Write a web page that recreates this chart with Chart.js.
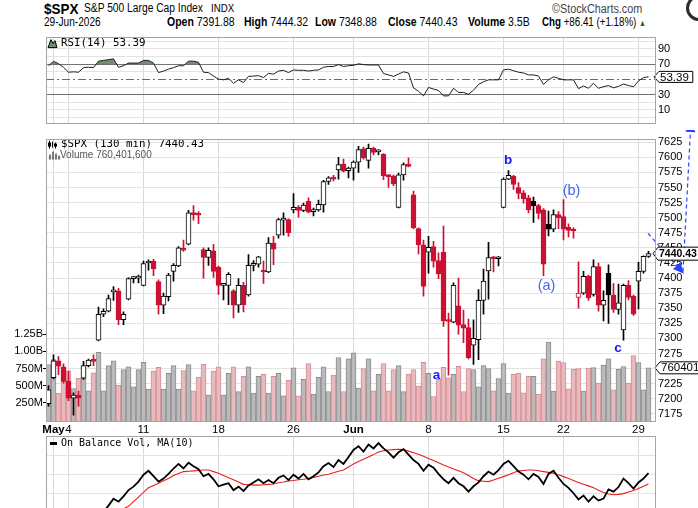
<!DOCTYPE html>
<html>
<head>
<meta charset="utf-8">
<title>$SPX 130 min</title>
<script src="https://cdn.jsdelivr.net/npm/chart.js@4.4.1/dist/chart.umd.min.js"></script>
<style>
  html, body { margin: 0; padding: 0; background: #fff; }
  body { position: relative; width: 698px; height: 508px; overflow: hidden; font-family: 'Liberation Sans', Arial, sans-serif; color: #000; }
  .hd { position: absolute; white-space: nowrap; line-height: 1; transform: scaleX(0.84); transform-origin: 0 0; }
  canvas { position: absolute; left: 0; }
</style>
</head>
<body>
<div class="hd" style="left:44px;top:1px;font-size:15px;font-weight:bold;transform:scaleX(0.9);">$SPX</div>
<div class="hd" style="left:84px;top:2px;font-size:12.5px;transform:scaleX(0.82);">S&amp;P 500 Large Cap Index</div>
<div class="hd" style="left:211px;top:3px;font-size:11.5px;">INDX</div>
<div class="hd" style="left:552px;top:3px;font-size:12px;color:#444;transform:scaleX(0.9);">©StockCharts.com</div>
<div class="hd" style="left:44px;top:16px;font-size:12px;">29-Jun-2026</div>
<div class="hd" style="left:167px;top:16px;font-size:12.5px;"><b>Open</b> 7391.88</div>
<div class="hd" style="left:244px;top:16px;font-size:12.5px;"><b>High</b> 7444.32</div>
<div class="hd" style="left:315px;top:16px;font-size:12.5px;"><b>Low</b> 7348.88</div>
<div class="hd" style="left:388px;top:16px;font-size:12.5px;"><b>Close</b> 7440.43</div>
<div class="hd" style="left:468px;top:16px;font-size:12.5px;"><b>Volume</b> 3.5B</div>
<div class="hd" style="left:542px;top:16px;font-size:12.5px;transform:scaleX(0.78);"><b>Chg</b> +86.41 (+1.18%) <span style="font-size:9px;color:#1d6b1d;">▲</span></div>
<div style="position:absolute;left:686px;top:-5px;width:20px;height:20px;border-radius:50%;border:3px solid #2b2b2b;"></div>

<canvas id="rsi" width="698" height="104" style="top:28px"></canvas>
<canvas id="price" width="698" height="305" style="top:130px"></canvas>
<canvas id="obv" width="698" height="100" style="top:434px"></canvas>

<script>
// ---- data (130 min bars, Apr 30 last bar .. Jun 29) ----
const xTickIdx = [1, 4, 19, 34, 49, 61, 76, 91, 103, 118];
const xTickText = ['May', '4', '11', '18', '26', 'Jun', '8', '15', '22', '29'];

const opens = [
  7192, 7235, 7263, 7253, 7229, 7201, 7206, 7234, 7255, 7264,
  7297, 7340, 7345, 7377, 7379, 7331, 7365, 7399, 7400, 7388,
  7425, 7428, 7394, 7355, 7369, 7411, 7420, 7449, 7456, 7508,
  7506, 7447, 7434, 7445, 7418, 7388, 7388, 7379, 7355, 7388,
  7372, 7421, 7423, 7413, 7410, 7458, 7471, 7496, 7497, 7513,
  7517, 7512, 7527, 7510, 7513, 7521, 7560, 7566, 7579, 7589,
  7578, 7582, 7592, 7614, 7595, 7615, 7609, 7605, 7570, 7569,
  7517, 7571, 7588, 7538, 7482, 7455, 7443, 7452, 7429, 7443,
  7330, 7327, 7354, 7323, 7318, 7289, 7298, 7363, 7412, 7435,
  7432, 7517, 7564, 7569, 7550, 7541, 7533, 7527, 7520, 7513,
  7489, 7481, 7505, 7502, 7484, 7481, 7368, 7375, 7403, 7373,
  7419, 7355, 7408, 7372, 7348, 7314, 7388, 7370, 7395, 7411,
  7436
];
const highs = [
  7222, 7273, 7270, 7258, 7245, 7210, 7213, 7262, 7266, 7273,
  7352, 7349, 7372, 7386, 7383, 7344, 7401, 7403, 7405, 7428,
  7430, 7431, 7397, 7375, 7408, 7424, 7452, 7463, 7512, 7520,
  7510, 7450, 7450, 7456, 7420, 7390, 7409, 7381, 7399, 7393,
  7439, 7429, 7436, 7428, 7467, 7469, 7499, 7508, 7498, 7540,
  7520, 7524, 7533, 7516, 7529, 7562, 7568, 7570, 7600, 7597,
  7584, 7594, 7618, 7617, 7622, 7617, 7613, 7606, 7571, 7571,
  7574, 7591, 7599, 7544, 7483, 7463, 7469, 7461, 7442, 7486,
  7342, 7392, 7400, 7347, 7332, 7331, 7381, 7415, 7459, 7436,
  7436, 7566, 7578, 7570, 7558, 7545, 7537, 7534, 7522, 7515,
  7511, 7513, 7510, 7530, 7490, 7483, 7427, 7411, 7405, 7430,
  7425, 7379, 7422, 7391, 7390, 7390, 7396, 7372, 7426, 7437,
  7444.32
];
const lows = [
  7188, 7233, 7240, 7226, 7197, 7173, 7188, 7232, 7253, 7255,
  7296, 7336, 7344, 7363, 7323, 7323, 7364, 7392, 7392, 7387,
  7413, 7404, 7340, 7341, 7362, 7395, 7419, 7444, 7455, 7496,
  7490, 7400, 7421, 7401, 7373, 7364, 7356, 7334, 7343, 7344,
  7370, 7412, 7418, 7391, 7409, 7422, 7466, 7471, 7469, 7508,
  7501, 7510, 7508, 7503, 7511, 7509, 7555, 7561, 7564, 7576,
  7566, 7562, 7575, 7597, 7582, 7604, 7604, 7563, 7550, 7553,
  7516, 7562, 7584, 7482, 7440, 7370, 7408, 7418, 7399, 7320,
  7239, 7326, 7307, 7293, 7266, 7257, 7265, 7340, 7365, 7410,
  7420, 7516, 7563, 7547, 7531, 7524, 7508, 7492, 7498, 7404,
  7470, 7477, 7482, 7463, 7468, 7466, 7350, 7373, 7363, 7370,
  7345, 7329, 7325, 7343, 7340, 7297, 7364, 7338, 7349, 7408,
  7434
];
const closes = [
  7215, 7263, 7254, 7229, 7201, 7206, 7201, 7255, 7264, 7262,
  7340, 7345, 7366, 7378, 7331, 7340, 7399, 7400, 7401, 7424,
  7428, 7415, 7355, 7370, 7405, 7421, 7450, 7446, 7508, 7505,
  7504, 7434, 7446, 7411, 7388, 7389, 7406, 7355, 7388, 7356,
  7421, 7423, 7435, 7410, 7458, 7448, 7497, 7498, 7475, 7517,
  7512, 7521, 7509, 7513, 7522, 7560, 7566, 7564, 7588, 7577,
  7582, 7592, 7613, 7599, 7615, 7608, 7610, 7569, 7568, 7556,
  7571, 7588, 7585, 7483, 7455, 7386, 7451, 7428, 7407, 7329,
  7328, 7388, 7322, 7317, 7268, 7300, 7363, 7395, 7434, 7432,
  7433, 7564, 7570, 7555, 7540, 7531, 7513, 7520, 7507, 7423,
  7481, 7505, 7500, 7481, 7479, 7478, 7375, 7403, 7367, 7419,
  7355, 7363, 7372, 7348, 7359, 7388, 7368, 7340, 7411, 7436,
  7440.43
];
// volume in millions of shares
const volumes = [
  807, 880, 387, 711, 721, 459, 607, 783, 426, 687,
  987, 426, 793, 864, 507, 736, 773, 483, 736, 840,
  450, 711, 769, 450, 679, 793, 450, 721, 807, 426,
  626, 816, 364, 711, 773, 364, 679, 773, 412, 636,
  773, 393, 636, 664, 393, 636, 679, 350, 579, 759,
  350, 593, 821, 379, 621, 773, 412, 654, 911, 412,
  893, 979, 464, 750, 893, 426, 664, 821, 426, 736,
  793, 412, 664, 736, 493, 840, 679, 340, 593, 769,
  616, 664, 783, 412, 750, 736, 483, 793, 750, 426,
  602, 821, 393, 664, 683, 397, 636, 636, 373, 893,
  1136, 421, 859, 836, 454, 740, 750, 421, 755, 764,
  536, 797, 893, 440, 740, 779, 536, 940, 836, 440,
  760.4016
];
const rsi = [
  68, 73.7, 70.7, 66, 59.5, 60, 59.5, 65.5, 66, 65.5,
  74, 75, 76, 77, 66, 68, 71.5, 71.5, 71.5, 75,
  75, 71.5, 59, 61, 63.5, 65.5, 68, 68, 74, 74,
  72.5, 59.5, 59, 54.5, 50.5, 49.5, 51.5, 45, 49.5, 46,
  54, 54.5, 55, 52.5, 58, 57, 61, 62, 59, 62.5,
  62, 62, 61, 62, 62.5, 66, 67, 67, 69.5, 67,
  68, 68.5, 70.5, 69.5, 69, 69, 69, 57.7, 56, 54,
  57, 60, 58.5, 39, 34.5, 28.5, 39.5, 37.5, 35.5, 28.5,
  28.5, 38.5, 33, 33, 30.5, 36, 43.5, 47, 49.5, 49.5,
  49.5, 62.5, 63.5, 61.5, 59.5, 58.5, 56, 56, 54.5, 43.5,
  49.5, 53.5, 51.5, 49.5, 49.5, 49.5, 38, 41.5, 38.5, 45,
  38.5, 40.5, 42, 39, 41, 44, 42, 40.5, 48, 52.5,
  53.39
];
// on balance volume, billions
const obv = [
  6.9, 7.7, 7.3, 6.6, 5.9, 6.3, 5.7, 6.5, 6.9, 6.2,
  7.2, 7.7, 8.5, 9.4, 9.0, 9.7, 10.5, 10.95, 11.6, 12.5,
  13.0, 12.3, 11.6, 12.0, 12.6, 13.3, 13.9, 13.3, 14.05, 13.6,
  13.2, 12.3, 12.6, 11.9, 11.0, 11.2, 11.4, 10.5, 10.95, 10.4,
  11.1, 11.5, 11.9, 11.4, 11.8, 11.4, 12.1, 12.4, 11.8, 12.5,
  12.0, 12.6, 11.9, 12.3, 12.8, 13.6, 14.0, 13.5, 14.4, 13.9,
  14.8, 15.7, 16.2, 15.5, 16.4, 15.9, 16.6, 15.9, 15.4, 14.7,
  15.4, 15.8, 15.1, 14.4, 13.9, 13.0, 13.8, 13.4, 12.6, 11.9,
  11.4, 12.1, 11.4, 11.0, 10.3, 11.0, 11.5, 12.3, 12.9, 12.5,
  13.1, 13.9, 14.3, 13.6, 12.9, 12.5, 11.9, 12.6, 12.2, 11.3,
  12.6, 13.0, 12.1, 11.3, 10.8, 10.1, 9.3, 9.8, 9.0, 9.7,
  9.15, 9.4, 10.6, 10.3, 10.9, 12.0, 11.4, 10.7, 11.5, 12.0,
  12.7
];
const obvMA = [
  5.8, 5.9, 6.0, 6.1, 6.2, 6.2, 6.3, 6.4, 6.5, 6.6,
  6.8, 7.0, 7.3, 7.6, 7.9, 8.1, 8.4, 9.0, 9.6, 10.2,
  10.8, 11.1, 11.4, 11.7, 12.0, 12.4, 12.65, 12.9, 12.95, 13.0,
  13.05, 13.1, 13.1, 12.9, 12.7, 12.4, 12.1, 11.85, 11.55, 11.25,
  11.2, 11.15, 11.15, 11.2, 11.25, 11.3, 11.45, 11.55, 11.7, 11.75,
  11.85, 11.9, 12.0, 12.15, 12.3, 12.45, 12.55, 12.75, 12.95, 13.1,
  13.5, 13.9, 14.2, 14.5, 14.8, 15.1, 15.45, 15.6, 15.7, 15.75,
  15.8, 15.75, 15.55, 15.35, 15.15, 14.9, 14.6, 14.35, 14.05, 13.75,
  13.5, 13.25, 13.0, 12.75, 12.4, 12.0, 11.7, 11.65, 11.6, 11.8,
  12.05, 12.25, 12.5, 12.75, 13.0, 13.05, 13.1, 13.1, 13.0, 12.9,
  12.8, 12.7, 12.5, 12.25, 12.0, 11.75, 11.5, 11.25, 11.05, 10.8,
  10.5, 10.2, 10.0, 9.9, 9.95, 10.05, 10.25, 10.45, 10.7, 11.0,
  11.3
];

const priceTicks = [7175, 7200, 7225, 7250, 7275, 7300, 7325, 7350, 7375, 7400,
                    7425, 7450, 7475, 7500, 7525, 7550, 7575, 7600, 7625];
const volTicks = [250, 500, 750, 1000, 1250];
const volTickText = ['250M', '500M', '750M', '1.00B', '1.25B'];
const rsiGrid = [0, 10, 20, 30, 40, 50, 60, 70, 80, 90, 100];
const rsiTickLabels = [90, 70, 30, 10];
const obvGrid = [7.5, 10, 12.5, 15, 17.5];

// Elliott wave labels: text, bar index, price level
const waveText = ['b', '(b)', '(a)', 'a', 'c'];
const waveIdx = [91.9, 104.6, 99.6, 77.6, 113.9];
const wavePrice = [7595, 7544, 7387, 7239, 7283];
const waveBold = [true, false, false, true, true];
// projection arrows: [fromIdx, fromPrice, toIdx, toPrice]
const arrows = [
  [119.9, 7474, 127.1, 7407],
  [126.9, 7411, 128.5, 7660]
];

// ---- styling ----
const FONT = "'Liberation Sans', Arial, sans-serif";
const MONO = "'DejaVu Sans Mono', monospace";
const RED = '#cc1034';
Chart.defaults.font.family = FONT;
Chart.defaults.font.size = 11;
Chart.defaults.color = '#000';

const candleColor = closes.map((c, i) => (i > 0 && c < closes[i - 1]) ? RED : '#000');
const bodyFill = opens.map((o, i) => closes[i] < o ? candleColor[i] : '#fff');
const volFill = candleColor.map(c => c === RED ? '#e8b9bd' : '#bababa');
const volEdge = candleColor.map(c => c === RED ? '#d58d95' : '#8c8c8c');

function xAxis(showLabels) {
  return {
    type: 'linear', min: -0.5, max: 121.5, offset: false,
    afterBuildTicks: s => { s.ticks = xTickIdx.map(v => ({ value: v })); },
    grid: { color: '#d9d9d9', drawTicks: false, offset: false },
    border: { display: false },
    ticks: {
      display: showLabels, autoSkip: false, maxRotation: 0, minRotation: 0, padding: 1,
      font: c => {
        const t = c.tick ? xTickText[xTickIdx.indexOf(c.tick.value)] : '';
        return { family: FONT, size: 11.5, weight: /[A-Za-z]/.test(t || '') ? 'bold' : 'normal' };
      },
      callback: v => { const k = xTickIdx.indexOf(v); return k >= 0 ? xTickText[k] : ''; }
    },
    afterFit: s => { s.height = showLabels ? 13 : 0; }
  };
}

const panelFrame = {
  id: 'panelFrame',
  afterDraw(chart) {
    const { ctx, chartArea: a } = chart;
    ctx.save();
    ctx.strokeStyle = '#a5a5a5';
    ctx.lineWidth = 1;
    ctx.strokeRect(Math.round(a.left) + 0.5, Math.round(a.top) + 0.5,
                   Math.round(a.right - a.left) - 1, Math.round(a.bottom - a.top) - 1);
    ctx.restore();
  }
};

function drawTag(ctx, x, y, text, bold, h) {
  ctx.save();
  ctx.font = (bold ? 'bold 10.5px ' : '11.5px ') + FONT;
  const w = ctx.measureText(text).width + 5;
  const hh = h / 2;
  ctx.beginPath();
  ctx.moveTo(x, y);
  ctx.lineTo(x + 5, y - hh);
  ctx.lineTo(x + 5 + w, y - hh);
  ctx.lineTo(x + 5 + w, y + hh);
  ctx.lineTo(x + 5, y + hh);
  ctx.closePath();
  ctx.fillStyle = '#fff';
  ctx.fill();
  ctx.strokeStyle = '#000';
  ctx.lineWidth = 1;
  ctx.stroke();
  ctx.fillStyle = '#000';
  ctx.textBaseline = 'middle';
  ctx.fillText(text, x + 6, y + 0.5);
  ctx.restore();
}

function drawArrow(ctx, x1, y1, x2, y2) {
  const ang = Math.atan2(y2 - y1, x2 - x1);
  const len = 11, half = 5;
  const bx = x2 - Math.cos(ang) * len, by = y2 - Math.sin(ang) * len;
  ctx.save();
  ctx.strokeStyle = '#2a40ff';
  ctx.fillStyle = '#2a40ff';
  ctx.lineWidth = 1.2;
  ctx.setLineDash([4, 3]);
  ctx.beginPath();
  ctx.moveTo(x1, y1);
  ctx.lineTo(bx, by);
  ctx.stroke();
  ctx.setLineDash([]);
  ctx.beginPath();
  ctx.moveTo(x2, y2);
  ctx.lineTo(bx + Math.sin(ang) * half, by - Math.cos(ang) * half);
  ctx.lineTo(bx - Math.sin(ang) * half, by + Math.cos(ang) * half);
  ctx.closePath();
  ctx.fill();
  ctx.restore();
}

// ---- RSI panel ----
const rsiDeco = {
  id: 'rsiDeco',
  beforeDatasetsDraw(chart) {
    const { ctx, chartArea: a, scales: { y } } = chart;
    const y50 = Math.round(y.getPixelForValue(50)) + 0.5;
    ctx.save();
    ctx.strokeStyle = '#6a6a6a';
    ctx.lineWidth = 1;
    ctx.setLineDash([8, 3, 2, 3]);
    ctx.beginPath();
    ctx.moveTo(a.left, y50);
    ctx.lineTo(a.right, y50);
    ctx.stroke();
    ctx.restore();
  },
  afterDraw(chart) {
    const { ctx, chartArea: a, scales: { y } } = chart;
    ctx.save();
    // small indicator icon
    ctx.fillStyle = '#6f8f6f';
    ctx.strokeStyle = '#000';
    ctx.lineWidth = 1;
    ctx.beginPath();
    ctx.moveTo(a.left + 2, a.top + 11);
    ctx.lineTo(a.left + 5, a.top + 3);
    ctx.lineTo(a.left + 7, a.top + 7);
    ctx.lineTo(a.left + 9, a.top + 4);
    ctx.lineTo(a.left + 11, a.top + 11);
    ctx.closePath();
    ctx.fill();
    ctx.stroke();
    ctx.font = '10.8px ' + MONO;
    ctx.fillStyle = '#000';
    ctx.textBaseline = 'middle';
    ctx.fillText('RSI(14) ' + rsi[rsi.length - 1].toFixed(2), a.left + 15, a.top + 6.5);
    ctx.restore();
    drawTag(ctx, a.right - 2, y.getPixelForValue(rsi[rsi.length - 1]), rsi[rsi.length - 1].toFixed(2), false, 11);
  }
};

new Chart(document.getElementById('rsi'), {
  type: 'line',
  data: {
    datasets: [{
      label: 'RSI(14)',
      data: rsi.map((v, i) => ({ x: i, y: v })),
      borderColor: '#1e1e1e',
      borderWidth: 1,
      pointRadius: 0,
      tension: 0,
      fill: { target: { value: 70 }, above: '#6f8f6f', below: 'rgba(0,0,0,0)' }
    }]
  },
  options: {
    responsive: false,
    animation: false,
    layout: { padding: { top: 1, bottom: 1.5, left: 46, right: 0 } },
    plugins: { legend: { display: false }, tooltip: { enabled: false } },
    scales: {
      x: xAxis(false),
      y: {
        position: 'right', min: -7.6, max: 106.2,
        afterBuildTicks: s => { s.ticks = rsiGrid.map(v => ({ value: v })); },
        grid: {
          drawTicks: false,
          color: c => {
            const v = c.tick ? c.tick.value : null;
            if (v === 70 || v === 30) return '#707070';
            if (v === 50) return 'rgba(0,0,0,0)';
            return '#e3e3e3';
          }
        },
        border: { display: false },
        ticks: {
          autoSkip: false, padding: 2, font: { size: 11 },
          callback: v => rsiTickLabels.includes(v) ? String(v) : ''
        },
        afterFit: s => { s.width = 42; }
      }
    }
  },
  plugins: [rsiDeco, panelFrame]
});

// ---- price + volume panel ----
const priceDeco = {
  id: 'priceDeco',
  afterDraw(chart) {
    const { ctx, chartArea: a, scales } = chart;
    const xs = scales.x, ys = scales.y, yv = scales.yVol;
    ctx.save();
    // legend icons
    ctx.strokeStyle = '#000';
    ctx.lineWidth = 1;
    [a.left + 3.5, a.left + 6.5, a.left + 9.5].forEach((px, k) => {
      ctx.beginPath();
      ctx.moveTo(px, a.top + 2 + k);
      ctx.lineTo(px, a.top + 10 - (k % 2));
      ctx.stroke();
    });
    ctx.fillStyle = '#000';
    ctx.fillRect(a.left + 2, a.top + 4, 3, 4);
    ctx.fillRect(a.left + 8, a.top + 5, 3, 3);
    ctx.fillStyle = '#777';
    [[3, 5], [6, 8], [9, 6], [12, 4]].forEach(([dx, h]) => ctx.fillRect(a.left + dx, a.top + 21 - h, 2, h));
    ctx.font = '10.8px ' + MONO;
    ctx.fillStyle = '#000';
    ctx.textBaseline = 'middle';
    ctx.fillText('$SPX (130 min) ' + closes[closes.length - 1].toFixed(2), a.left + 15, a.top + 5.5);
    ctx.font = '10px ' + FONT;
    ctx.fillStyle = '#555';
    ctx.fillText('Volume ' + Math.round(volumes[volumes.length - 1] * 1e6).toLocaleString('en-US'), a.left + 14, a.top + 16.5);

    // wave labels
    ctx.textAlign = 'center';
    waveText.forEach((t, k) => {
      ctx.font = (waveBold[k] ? 'bold 13.5px ' : '14.5px ') + FONT;
      ctx.fillStyle = waveBold[k] ? '#1717ee' : '#4664f0';
      ctx.fillText(t, xs.getPixelForValue(waveIdx[k]), ys.getPixelForValue(wavePrice[k]));
    });
    ctx.restore();

    arrows.forEach(([i1, p1, i2, p2]) => {
      drawArrow(ctx, xs.getPixelForValue(i1), ys.getPixelForValue(p1), xs.getPixelForValue(i2), ys.getPixelForValue(p2));
    });

    const lastVol = volumes[volumes.length - 1];
    drawTag(ctx, a.right - 1, yv.getPixelForValue(lastVol), String(Math.round(lastVol * 1e6)), false, 12);
    drawTag(ctx, a.right - 3, ys.getPixelForValue(closes[closes.length - 1]), closes[closes.length - 1].toFixed(2), true, 13);
  }
};

new Chart(document.getElementById('price'), {
  type: 'bar',
  data: {
    datasets: [
      {
        label: 'Volume', yAxisID: 'yVol', order: 3, grouped: false,
        barThickness: 5, base: -30,
        data: volumes.map((v, i) => ({ x: i, y: v })),
        backgroundColor: volFill, borderColor: volEdge,
        borderWidth: { top: 1, left: 1, right: 1, bottom: 0 }, borderSkipped: false
      },
      {
        label: 'Range', yAxisID: 'y', order: 2, grouped: false,
        barThickness: 1,
        data: lows.map((l, i) => ({ x: i, y: [l, highs[i]] })),
        backgroundColor: candleColor, borderWidth: 0
      },
      {
        label: '$SPX', yAxisID: 'y', order: 1, grouped: false,
        barThickness: 5, minBarLength: 2,
        data: opens.map((o, i) => ({ x: i, y: [Math.min(o, closes[i]), Math.max(o, closes[i])] })),
        backgroundColor: bodyFill, borderColor: candleColor,
        borderWidth: 1, borderSkipped: false
      }
    ]
  },
  options: {
    responsive: false,
    animation: false,
    layout: { padding: { top: 1, bottom: 0, left: 0, right: 0 } },
    plugins: { legend: { display: false }, tooltip: { enabled: false } },
    scales: {
      x: xAxis(true),
      y: {
        position: 'right', min: 7161.6, max: 7631,
        afterBuildTicks: s => { s.ticks = priceTicks.map(v => ({ value: v })); },
        grid: { color: '#e2e2e2', drawTicks: false },
        border: { display: false },
        ticks: { autoSkip: false, padding: 2, font: { size: 11 }, callback: v => String(v) },
        afterFit: s => { s.width = 42; }
      },
      yVol: {
        position: 'left', min: -30, max: 4104,
        afterBuildTicks: s => { s.ticks = volTicks.map(v => ({ value: v })); },
        grid: { drawOnChartArea: false, drawTicks: true, tickLength: 3, tickColor: '#000' },
        border: { display: false },
        ticks: {
          autoSkip: false, padding: 0, font: { size: 11 },
          callback: v => { const k = volTicks.indexOf(v); return k >= 0 ? volTickText[k] : ''; }
        },
        afterFit: s => { s.width = 46; }
      }
    }
  },
  plugins: [priceDeco, panelFrame]
});

// ---- On Balance Volume panel ----
const obvDeco = {
  id: 'obvDeco',
  afterDraw(chart) {
    const { ctx, chartArea: a } = chart;
    ctx.save();
    ctx.fillStyle = '#000';
    ctx.fillRect(a.left + 4, a.top + 6, 7, 3);
    ctx.font = '10px ' + MONO;
    ctx.textBaseline = 'middle';
    ctx.fillText('On Balance Vol, MA(10)', a.left + 15, a.top + 7.5);
    ctx.restore();
  }
};

new Chart(document.getElementById('obv'), {
  type: 'line',
  data: {
    datasets: [
      {
        label: 'On Balance Vol', data: obv.map((v, i) => ({ x: i, y: v })),
        borderColor: '#000', borderWidth: 1.8, pointRadius: 0, tension: 0, order: 1
      },
      {
        label: 'MA(10)', data: obvMA.map((v, i) => ({ x: i, y: v })),
        borderColor: '#e8201a', borderWidth: 1.1, pointRadius: 0, tension: 0, order: 2
      }
    ]
  },
  options: {
    responsive: false,
    animation: false,
    layout: { padding: { top: 2, bottom: 0, left: 46, right: 0 } },
    plugins: { legend: { display: false }, tooltip: { enabled: false } },
    scales: {
      x: xAxis(false),
      y: {
        position: 'right', min: 4.82, max: 17.51,
        afterBuildTicks: s => { s.ticks = obvGrid.map(v => ({ value: v })); },
        grid: { color: '#e2e2e2', drawTicks: false },
        border: { display: false },
        ticks: { display: false },
        afterFit: s => { s.width = 42; }
      }
    }
  },
  plugins: [obvDeco, panelFrame]
});
</script>
</body>
</html>
